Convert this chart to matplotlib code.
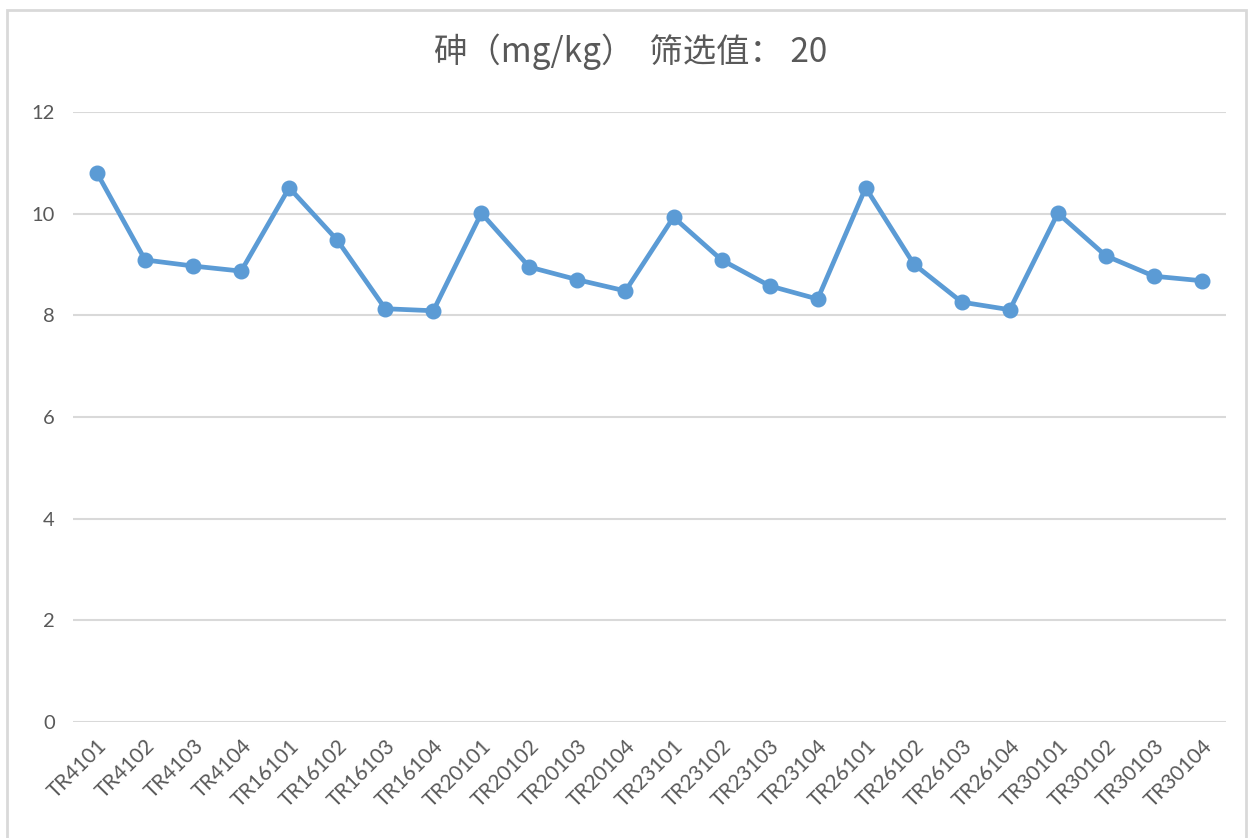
import matplotlib
matplotlib.use("Agg")
import matplotlib.pyplot as plt
from matplotlib.patches import Rectangle

samples = [
    "TR4101", "TR4102", "TR4103", "TR4104",
    "TR16101", "TR16102", "TR16103", "TR16104",
    "TR20101", "TR20102", "TR20103", "TR20104",
    "TR23101", "TR23102", "TR23103", "TR23104",
    "TR26101", "TR26102", "TR26103", "TR26104",
    "TR30101", "TR30102", "TR30103", "TR30104",
]
arsenic = [
    10.80, 9.09, 8.97, 8.87,
    10.51, 9.48, 8.13, 8.09,
    10.01, 8.95, 8.70, 8.48,
    9.93, 9.09, 8.58, 8.32,
    10.51, 9.01, 8.26, 8.11,
    10.01, 9.17, 8.77, 8.68,
]
y_ticks = [0, 2, 4, 6, 8, 10, 12]

plt.rcParams["font.family"] = ["Lato", "Noto Sans CJK SC", "DejaVu Sans"]

fig = plt.figure(figsize=(12.48, 8.38), dpi=100)
fig.patches.append(Rectangle((7 / 1248, -0.01), 1239 / 1248, 1 - 10 / 838 + 0.01,
                             transform=fig.transFigure, fill=False,
                             edgecolor="#d9d9d9", linewidth=2))

ax = fig.add_axes([73 / 1248, 116 / 838, 1153 / 1248, 610 / 838])
x = range(len(samples))
ax.plot(x, arsenic, color="#5b9bd5", linewidth=3.4, marker="o", markersize=10.5,
        solid_capstyle="round", solid_joinstyle="round", zorder=3)

ax.set_xlim(-0.5, len(samples) - 0.5)
ax.set_ylim(0, 12)
ax.set_yticks(y_ticks)
ax.grid(axis="y", color="#d9d9d9", linewidth=1.5)
ax.set_axisbelow(True)
for side in ["top", "right", "left", "bottom"]:
    ax.spines[side].set_visible(False)
ax.tick_params(axis="both", length=0, colors="#595959")
ax.tick_params(axis="y", pad=13, labelsize=14.5)
ax.set_xticks(list(x))
ax.set_xticklabels(samples, rotation=45, ha="right", va="top",
                   rotation_mode="anchor", fontsize=15)
ax.tick_params(axis="x", pad=10)

fig.text(0.505, 0.938, "砷（mg/kg）  筛选值： 20", ha="center", va="center",
         fontsize=24, color="#595959",
         family=["Noto Sans CJK SC", "DejaVu Sans"])

fig.savefig("out.png", dpi=100)
